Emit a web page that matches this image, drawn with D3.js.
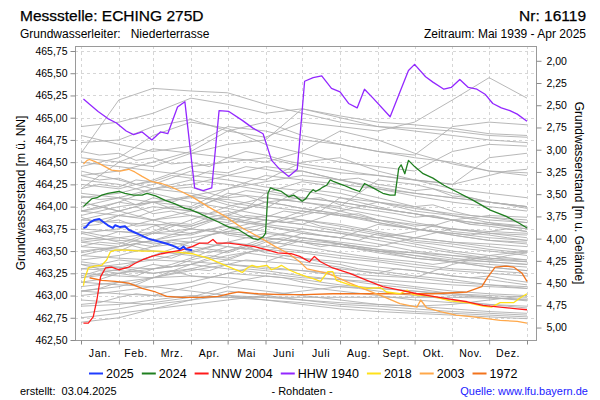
<!DOCTYPE html>
<html><head><meta charset="utf-8">
<script src="https://cdn.jsdelivr.net/npm/d3@7"></script>
<style>
body{margin:0;background:#fff}
svg{display:block}
text{font-family:"Liberation Sans",Arial,sans-serif;fill:#000}
</style>
</head><body>
<svg id="c" width="600" height="400"></svg>
<script>
// ---------- data ----------
const monthLabels = ["Jan.","Feb.","Mrz.","Apr.","Mai","Juni","Juli","Aug.","Sept.","Okt.","Nov.","Dez."];
const monthStarts = [0,31,59,90,120,151,181,212,243,273,304,334,365];
const halfMonths = [0,15,31,45,59,74,90,105,120,135,151,166,181,196,212,227,243,258,273,288,304,319,334,349,365];
const leftTicks = [462.50,462.75,463.00,463.25,463.50,463.75,464.00,464.25,464.50,464.75,465.00,465.25,465.50,465.75];
const rightTicks = [2.00,2.25,2.50,2.75,3.00,3.25,3.50,3.75,4.00,4.25,4.50,4.75,5.00];
const groundLevel = 467.64;

// gray: other years, values at the month starts
const grayLevels = [
 [464.60,465.20,465.33,465.30,465.28,465.15,465.05,464.95,464.90,464.88,464.85,464.80,464.78],
 [464.90,464.95,465.05,465.22,465.15,465.05,465.10,465.02,464.95,464.92,464.88,464.82,464.80],
 [464.72,464.75,464.90,464.98,464.85,464.78,464.95,464.90,464.85,464.95,465.20,465.45,465.22],
 [464.80,464.70,464.62,464.68,464.90,464.85,464.75,464.70,464.62,464.58,464.90,464.95,464.92],
 [464.45,464.55,464.80,464.95,464.88,464.70,464.60,464.50,464.45,464.40,464.62,464.70,464.68],
 [464.35,464.40,464.50,464.62,464.85,464.95,464.80,464.70,464.62,464.55,464.50,464.40,464.35],
 [464.20,464.50,464.65,464.60,464.55,464.50,464.62,464.85,464.75,464.60,464.48,464.40,464.38],
 [464.25,464.20,464.30,464.45,464.50,464.55,464.45,464.38,464.35,464.30,464.25,464.55,464.60],
 [464.10,464.15,464.25,464.40,464.35,464.30,464.50,464.55,464.40,464.30,464.20,464.15,464.10],
 [464.15,464.10,464.05,464.00,464.20,464.35,464.30,464.25,464.20,464.15,464.10,464.05,464.00],
 [464.00,464.10,464.20,464.15,464.05,463.98,464.20,464.15,464.05,463.95,463.90,463.85,463.82],
 [463.95,463.90,463.85,463.95,464.15,464.10,464.05,464.00,464.30,464.25,464.15,464.05,464.00],
 [463.90,464.00,464.05,464.10,464.08,464.00,463.95,463.90,463.85,463.80,463.75,463.72,463.70],
 [463.85,463.82,463.80,463.78,463.90,464.05,464.10,464.05,463.98,463.92,463.85,463.80,463.78],
 [463.80,463.90,464.00,463.95,463.88,463.80,463.75,463.70,463.65,463.72,463.85,463.90,463.88],
 [463.75,463.72,463.70,463.68,463.80,463.90,463.85,463.78,463.70,463.65,463.60,463.58,463.55],
 [463.70,463.75,463.85,463.90,463.85,463.78,463.70,463.65,463.80,463.75,463.68,463.62,463.60],
 [463.65,463.62,463.60,463.65,463.72,463.80,463.95,463.90,463.82,463.75,463.70,463.65,463.62],
 [463.60,463.65,463.70,463.75,463.70,463.65,463.60,463.55,463.50,463.48,463.45,463.42,463.40],
 [463.55,463.52,463.50,463.48,463.60,463.70,463.65,463.60,463.55,463.65,463.75,463.70,463.68],
 [463.50,463.55,463.62,463.70,463.78,463.72,463.65,463.58,463.52,463.48,463.42,463.38,463.35],
 [463.45,463.42,463.40,463.50,463.60,463.55,463.50,463.45,463.40,463.35,463.30,463.28,463.25],
 [463.40,463.45,463.55,463.60,463.55,463.50,463.62,463.58,463.50,463.42,463.38,463.35,463.32],
 [463.35,463.32,463.30,463.35,463.45,463.52,463.48,463.42,463.38,463.32,463.28,463.25,463.22],
 [463.30,463.35,463.40,463.38,463.35,463.30,463.28,463.25,463.22,463.20,463.35,463.45,463.50],
 [463.25,463.22,463.20,463.28,463.35,463.32,463.28,463.22,463.18,463.15,463.12,463.10,463.08],
 [463.20,463.25,463.30,463.35,463.30,463.25,463.20,463.18,463.15,463.10,463.05,463.02,463.00],
 [463.15,463.12,463.10,463.15,463.25,463.22,463.18,463.12,463.08,463.05,463.02,463.00,462.98],
 [463.10,463.15,463.20,463.22,463.20,463.15,463.10,463.05,463.00,462.95,462.92,462.90,462.88],
 [463.05,463.02,463.00,462.98,462.98,462.98,462.98,462.98,462.98,462.98,462.98,462.97,462.96],
 [463.00,463.05,463.10,463.05,463.00,462.95,462.92,462.88,462.85,462.82,462.80,462.78,462.76],
 [462.95,462.92,462.90,462.95,463.05,463.00,462.95,462.90,462.88,462.85,462.82,462.80,462.78],
 [462.88,462.90,462.95,463.00,462.98,462.95,462.90,462.85,462.82,462.80,462.78,462.76,462.74],
 [462.80,462.85,462.92,462.98,463.10,463.05,463.00,462.95,462.90,462.88,462.85,462.82,462.80],
 [462.70,462.75,462.85,462.95,463.00,462.98,462.95,462.92,462.90,462.88,462.90,462.95,463.00],
 [464.30,464.25,464.15,464.05,463.98,463.90,463.85,463.80,463.72,463.65,463.60,463.55,463.50],
 [464.05,463.95,463.85,463.75,463.70,463.65,463.60,463.55,463.50,463.45,463.40,463.38,463.35],
 [463.70,463.60,463.50,463.45,463.40,463.38,463.35,463.30,463.25,463.20,463.15,463.12,463.10],
 [463.45,463.55,463.70,463.85,464.00,464.10,464.05,463.98,463.90,463.82,463.75,463.70,463.65],
 [463.20,463.30,463.45,463.60,463.75,463.85,463.80,463.72,463.65,463.58,463.50,463.45,463.40],
 [463.05,463.10,463.20,463.35,463.50,463.65,463.75,463.70,463.62,463.55,463.48,463.42,463.38],
 [463.95,464.05,464.20,464.30,464.25,464.18,464.10,464.05,463.98,463.92,463.85,463.80,463.75],
 [464.50,464.45,464.40,464.35,464.30,464.22,464.18,464.10,464.05,463.98,463.92,463.88,463.85],
 [463.85,463.95,464.05,464.12,464.20,464.28,464.35,464.30,464.22,464.15,464.10,464.05,464.00],
 [463.60,463.55,463.62,463.75,463.90,463.85,463.80,463.95,464.05,464.00,463.90,463.82,463.78],
 [464.40,464.30,464.20,464.25,464.35,464.45,464.40,464.30,464.20,464.12,464.05,464.00,463.95],
 [463.30,463.28,463.25,463.30,463.40,463.55,463.70,463.65,463.58,463.50,463.45,463.40,463.38],
 [462.75,462.80,462.85,462.90,462.95,463.00,463.05,463.10,463.08,463.05,463.00,462.98,462.95],
 [464.55,464.50,464.45,464.60,464.70,464.75,465.10,465.00,464.90,464.85,464.80,464.75,464.72]
];

// gray: further years, values at the month starts and mid-months
const grayLevelsHalf = [
 [464.20,464.25,464.22,464.30,464.28,464.35,464.32,464.40,464.38,464.45,464.42,464.38,464.40,464.35,464.30,464.32,464.25,464.22,464.18,464.20,464.12,464.10,464.05,464.02,463.98],
 [463.95,463.98,464.05,464.02,464.10,464.05,464.12,464.08,464.02,463.98,464.15,464.12,464.08,464.10,464.02,463.98,463.95,463.92,463.88,463.90,463.85,463.80,463.82,463.78,463.75],
 [463.62,463.65,463.72,463.70,463.78,463.82,463.80,463.88,463.92,463.98,464.05,464.02,463.98,463.95,464.10,464.05,464.00,463.95,463.92,463.88,463.85,463.80,463.78,463.75,463.72],
 [463.48,463.52,463.50,463.58,463.55,463.62,463.60,463.68,463.72,463.70,463.78,463.75,463.72,463.68,463.65,463.62,463.70,463.65,463.60,463.58,463.55,463.52,463.50,463.48,463.45],
 [463.38,463.35,463.40,463.38,463.45,463.42,463.50,463.48,463.55,463.52,463.60,463.58,463.55,463.52,463.48,463.45,463.42,463.40,463.38,463.35,463.38,463.42,463.40,463.45,463.48],
 [463.22,463.28,463.25,463.30,463.35,463.32,463.40,463.45,463.42,463.48,463.45,463.42,463.38,463.35,463.32,463.28,463.25,463.30,463.28,463.25,463.22,463.20,463.18,463.15,463.12],
 [464.35,464.30,464.32,464.25,464.28,464.20,464.22,464.15,464.10,464.12,464.05,464.02,463.98,463.95,463.90,463.92,463.85,463.82,463.78,463.80,463.72,463.70,463.68,463.65,463.62],
 [464.12,464.08,464.10,464.02,464.05,463.98,463.95,463.92,463.95,463.88,463.85,463.82,463.85,463.78,463.75,463.72,463.68,463.65,463.62,463.60,463.58,463.55,463.52,463.50,463.48],
 [463.88,463.82,463.85,463.78,463.80,463.72,463.70,463.75,463.68,463.65,463.62,463.65,463.60,463.55,463.58,463.52,463.48,463.45,463.42,463.40,463.38,463.35,463.32,463.30,463.28],
 [463.72,463.68,463.65,463.62,463.58,463.60,463.55,463.52,463.50,463.55,463.48,463.45,463.42,463.40,463.38,463.35,463.32,463.30,463.28,463.25,463.22,463.20,463.22,463.18,463.15],
 [463.05,463.08,463.15,463.12,463.20,463.25,463.30,463.28,463.35,463.40,463.38,463.45,463.42,463.38,463.35,463.30,463.28,463.25,463.22,463.20,463.18,463.15,463.12,463.10,463.08],
 [462.90,462.92,462.98,463.02,463.00,463.05,463.10,463.15,463.12,463.18,463.22,463.20,463.15,463.12,463.10,463.08,463.05,463.02,463.00,462.98,462.95,462.92,462.90,462.88,462.86],
 [464.62,464.58,464.60,464.52,464.55,464.48,464.50,464.45,464.55,464.62,464.58,464.52,464.48,464.45,464.42,464.38,464.35,464.32,464.30,464.28,464.25,464.30,464.35,464.40,464.42],
 [463.78,463.80,463.90,463.88,463.95,464.00,463.98,464.05,464.12,464.18,464.15,464.22,464.28,464.25,464.20,464.15,464.10,464.05,464.00,464.02,463.95,463.90,463.88,463.85,463.82],
 [463.55,463.60,463.58,463.65,463.72,463.80,463.78,463.85,463.82,463.90,463.88,463.95,463.92,464.00,463.95,463.90,463.85,463.80,463.75,463.72,463.68,463.65,463.62,463.60,463.58],
 [463.15,463.18,463.25,463.22,463.30,463.35,463.42,463.50,463.48,463.55,463.62,463.58,463.65,463.62,463.58,463.55,463.52,463.48,463.45,463.42,463.38,463.35,463.32,463.30,463.28],
 [464.05,464.00,463.95,464.00,463.92,463.95,463.90,463.85,463.88,463.82,463.80,463.85,463.90,463.95,463.92,463.88,463.82,463.78,463.75,463.72,463.70,463.68,463.72,463.75,463.72],
 [463.35,463.30,463.32,463.28,463.25,463.28,463.22,463.20,463.25,463.30,463.28,463.25,463.22,463.20,463.18,463.15,463.12,463.10,463.08,463.05,463.02,463.00,462.98,462.96,462.94]
];

const days1972 = [7,17,28,39,50,61,70,82,99,112,121,129,145,164,183,206,234,261,288,316,328,333,339,348,354,361,365];
const level1972 = [463.20,463.17,463.16,463.14,463.08,463.04,462.99,462.98,462.98,462.99,463.02,463.04,463.02,463.01,463.01,463.02,463.02,463.02,463.02,463.04,463.10,463.21,463.32,463.33,463.32,463.25,463.16];

const days2003 = [2,5,7,11,17,25,32,39,44,50,58,66,74,82,91,104,118,132,140,148,159,170,179,185,202,212,220,234,247,261,275,278,283,294,307,321,343,357,365];
const level2003 = [464.48,464.52,464.53,464.51,464.47,464.41,464.40,464.42,464.39,464.34,464.28,464.26,464.22,464.17,464.11,464.00,463.89,463.76,463.70,463.64,463.55,463.47,463.38,463.30,463.25,463.19,463.14,463.06,462.99,462.91,462.87,462.95,462.86,462.82,462.78,462.76,462.72,462.71,462.69];

const days2018 = [2,3,6,11,17,21,24,28,36,50,63,77,91,104,118,132,136,140,144,148,152,156,160,164,170,177,185,190,196,202,206,209,220,234,245,250,261,267,272,288,302,316,329,336,343,354,359,365];
const level2018 = [463.11,463.19,463.31,463.33,463.34,463.40,463.49,463.51,463.51,463.50,463.50,463.49,463.47,463.42,463.34,463.26,463.31,463.34,463.32,463.33,463.34,463.29,463.31,463.34,463.29,463.25,463.21,463.19,463.16,463.27,463.27,463.17,463.12,463.08,463.09,463.04,463.02,463.06,463.01,462.99,462.94,462.92,462.88,462.87,462.92,462.92,462.97,463.02];

const days1940 = [2,7,14,22,29,37,43,50,58,65,71,79,85,93,100,107,113,121,132,141,149,156,162,170,177,183,190,197,205,212,219,226,232,239,253,261,268,273,282,288,297,303,310,317,324,331,337,344,351,357,365];
const level1940 = [465.21,465.15,465.07,464.99,464.94,464.85,464.81,464.84,464.75,464.84,464.82,465.12,465.18,464.21,464.18,464.21,465.08,465.07,464.97,464.88,464.82,464.52,464.43,464.34,464.42,465.41,465.45,465.47,465.33,465.29,465.16,465.11,465.32,465.22,465.01,465.29,465.53,465.60,465.46,465.40,465.32,465.34,465.43,465.34,465.32,465.26,465.16,465.11,465.08,465.04,464.96];

const days2004 = [2,6,10,13,16,20,25,31,39,44,50,58,66,74,82,91,97,104,108,111,121,132,142,153,161,172,179,183,187,191,196,206,220,234,247,261,275,288,302,316,329,343,357,365];
const level2004 = [462.69,462.69,462.76,462.95,463.21,463.31,463.32,463.29,463.32,463.36,463.40,463.44,463.47,463.49,463.51,463.55,463.59,463.59,463.63,463.59,463.59,463.57,463.55,463.51,463.48,463.47,463.44,463.41,463.38,463.44,463.38,463.31,463.25,463.17,463.10,463.06,463.02,462.99,462.96,462.93,462.89,462.87,462.85,462.84];

const days2024 = [2,5,9,13,17,22,31,36,43,50,54,61,69,77,85,89,96,104,112,121,129,136,141,145,149,151,153,155,159,164,170,174,178,181,184,187,190,192,196,198,201,204,207,215,222,228,232,239,247,253,257,260,262,265,268,273,280,288,297,307,321,335,348,359,365];
const level2024 = [464.00,464.04,464.09,464.10,464.13,464.15,464.17,464.15,464.13,464.13,464.15,464.12,464.07,464.03,463.98,463.97,463.93,463.88,463.83,463.77,463.74,463.68,463.64,463.63,463.66,463.70,464.15,464.21,464.19,464.17,464.11,464.13,464.09,464.06,464.09,464.15,464.19,464.17,464.20,464.22,464.24,464.30,464.28,464.24,464.20,464.17,464.26,464.21,464.15,464.13,464.13,464.43,464.47,464.37,464.52,464.45,464.37,464.32,464.24,464.17,464.07,463.96,463.89,463.81,463.76];

const days2025 = [2,4,7,11,15,18,22,26,28,32,36,39,47,55,63,71,77,81,84,86,91];
const level2025 = [463.76,463.77,463.82,463.85,463.86,463.83,463.79,463.76,463.79,463.77,463.78,463.74,463.69,463.64,463.61,463.58,463.55,463.52,463.55,463.52,463.51];

const seriesNames = ["2025","2024","NNW 2004","HHW 1940","2018","2003","1972"];
const seriesColors = ["#1f3cff","#1f7f1f","#ff1a1a","#9327ff","#ffe11a","#ffa84a","#f2731c"];
const seriesDays = [days2025,days2024,days2004,days1940,days2018,days2003,days1972];
const seriesLevels = [level2025,level2024,level2004,level1940,level2018,level2003,level1972];

// ---------- chart ----------
const svg = d3.select("#c");
const L = 75, R = 537, T = 46, B = 340;
const x = d3.scaleLinear().domain([0,365]).range([81,527]);
const y = d3.scaleLinear().domain([462.5,465.75]).range([340,51]);
const yR = d3.scaleLinear().domain([groundLevel-462.5, groundLevel-465.75]).range([340,51]);
const fmt = d => d.toFixed(2).replace(".",",");

svg.append("defs").append("clipPath").attr("id","clip")
  .append("rect").attr("x",L).attr("y",T).attr("width",R-L).attr("height",B-T);

// grid
const grid = svg.append("g").attr("stroke","#d6d6d6").attr("stroke-dasharray","3,3").attr("stroke-width",1);
grid.selectAll("line.h").data(leftTicks).join("line").attr("class","h")
  .attr("x1",L).attr("x2",R).attr("y1",d=>Math.round(y(d))+0.5).attr("y2",d=>Math.round(y(d))+0.5);
grid.selectAll("line.v").data(monthStarts).join("line").attr("class","v")
  .attr("x1",d=>Math.round(x(d))+0.5).attr("x2",d=>Math.round(x(d))+0.5).attr("y1",T).attr("y2",B);

const plot = svg.append("g").attr("clip-path","url(#clip)");
const line = d3.line().x(d=>x(d[0])).y(d=>y(d[1]));

plot.append("g").selectAll("path").data(grayLevels).join("path")
  .attr("d", v => line(d3.zip(monthStarts, v)))
  .attr("fill","none").attr("stroke","#b0b0b0").attr("stroke-width",0.9);
plot.append("g").selectAll("path").data(grayLevelsHalf).join("path")
  .attr("d", v => line(d3.zip(halfMonths, v)))
  .attr("fill","none").attr("stroke","#b0b0b0").attr("stroke-width",0.9);

const order = [6,5,4,3,2,1,0];
order.forEach(i => {
  plot.append("path").attr("d", line(d3.zip(seriesDays[i], seriesLevels[i])))
    .attr("fill","none").attr("stroke",seriesColors[i])
    .attr("stroke-width", i===0 ? 2 : 1.3).attr("stroke-linejoin","round");
});

// frame
svg.append("rect").attr("x",L+0.5).attr("y",T+0.5).attr("width",R-L-1).attr("height",B-T)
  .attr("fill","none").attr("stroke","#9a9a9a");

// axes
const axL = svg.append("g").attr("transform",`translate(${L+0.5},0)`)
  .call(d3.axisLeft(y).tickValues(leftTicks).tickFormat(fmt).tickSize(5).tickPadding(3));
const axR = svg.append("g").attr("transform",`translate(${R-0.5},0)`)
  .call(d3.axisRight(yR).tickValues(rightTicks).tickFormat(fmt).tickSize(5).tickPadding(5));
const axB = svg.append("g").attr("transform",`translate(0,${B+0.5})`)
  .call(d3.axisBottom(x).tickValues(monthStarts).tickFormat("").tickSize(4));
[axL,axR,axB].forEach(a => {
  a.select(".domain").remove();
  a.selectAll("line").attr("stroke","#8a8a8a");
  a.selectAll("text").attr("font-size",10.5).attr("fill","#111").attr("font-family","Liberation Sans, Arial, sans-serif");
});

// month labels
svg.append("g").selectAll("text").data(monthLabels).join("text")
  .attr("x",(d,i)=>x((monthStarts[i]+monthStarts[i+1])/2))
  .attr("y",357).attr("text-anchor","middle").attr("font-size",10.5)
  .attr("letter-spacing","0.6px").text(d=>d);

// axis titles
svg.append("text").attr("transform","translate(25,193) rotate(-90)")
  .attr("text-anchor","middle").attr("font-size",12).text("Grundwasserstand [m ü. NN]");
svg.append("text").attr("transform","translate(575,193) rotate(90)")
  .attr("text-anchor","middle").attr("font-size",12).text("Grundwasserstand [m u. Gelände]");

// titles
svg.append("text").attr("x",20).attr("y",21).attr("font-size",15.5).attr("stroke","#000").attr("stroke-width",0.25).text("Messstelle: ECHING 275D");
svg.append("text").attr("x",586).attr("y",21).attr("font-size",15.5).attr("stroke","#000").attr("stroke-width",0.25).attr("text-anchor","end").text("Nr: 16119");
svg.append("text").attr("x",20).attr("y",38).attr("font-size",12).attr("xml:space","preserve").text("Grundwasserleiter:   Niederterrasse");
svg.append("text").attr("x",586).attr("y",38).attr("font-size",12).attr("text-anchor","end").text("Zeitraum: Mai 1939 - Apr 2025");

// legend
let lx = 89;
const lg = svg.append("g");
seriesNames.forEach((n,i) => {
  lg.append("line").attr("x1",lx).attr("x2",lx+14).attr("y1",373.5).attr("y2",373.5)
    .attr("stroke",seriesColors[i]).attr("stroke-width",2);
  const t = lg.append("text").attr("x",lx+17).attr("y",378).attr("font-size",12.5).text(n);
  lx = lx + 17 + t.node().getComputedTextLength() + 8;
});

// footer
svg.append("text").attr("x",20).attr("y",395).attr("font-size",11).attr("xml:space","preserve").text("erstellt:  03.04.2025");
svg.append("text").attr("x",302).attr("y",395).attr("font-size",11).attr("text-anchor","middle").text("- Rohdaten -");
svg.append("text").attr("x",588).attr("y",395).attr("font-size",11).attr("text-anchor","end").style("fill","#1a1aff").text("Quelle: www.lfu.bayern.de");
</script>
</body></html>
